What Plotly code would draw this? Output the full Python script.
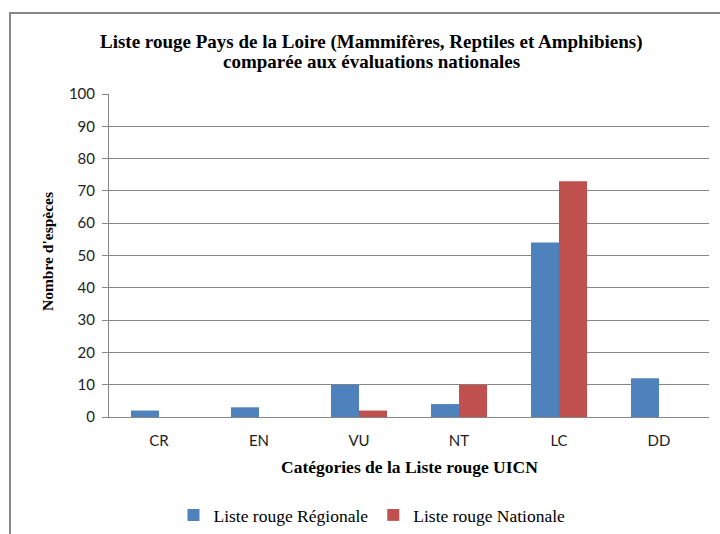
import plotly.graph_objects as go

categories = ["CR", "EN", "VU", "NT", "LC", "DD"]
regionale = [2, 3, 10, 4, 54, 12]
nationale = [None, None, 2, 10, 73, None]
series_names = ["Liste rouge Régionale", "Liste rouge Nationale"]
y_ticks = list(range(0, 101, 10))
title_lines = ["Liste rouge Pays de la Loire (Mammifères, Reptiles et Amphibiens)",
               "comparée aux évaluations nationales"]

W, H = 720, 534
L, R, T, B = 109, 11, 94, 117
pw = W - L - R
ph = H - T - B

def px_x(x):
    return (x - L) / pw

def px_y(y):
    return (H - B - y) / ph

serif = "Liberation Serif, Times New Roman, serif"
sans = "Lato, Carlito, Calibri, sans-serif"

fig = go.Figure()
fig.add_trace(go.Bar(x=categories, y=regionale, name=series_names[0],
                     marker=dict(color="#4F81BD", line=dict(width=0))))
fig.add_trace(go.Bar(x=categories, y=nationale, name=series_names[1],
                     marker=dict(color="#C0504D", line=dict(width=0))))

fig.update_layout(
    width=W, height=H,
    margin=dict(l=L, r=R, t=T, b=B, pad=0, autoexpand=False),
    paper_bgcolor="white", plot_bgcolor="white",
    barmode="group", bargap=0.44, bargroupgap=0,
    legend=dict(orientation="h", x=px_x(372), xanchor="center",
                y=px_y(515), yanchor="middle",
                font=dict(family=serif, size=17.5, color="black"),
                itemwidth=30, tracegroupgap=0, bgcolor="rgba(0,0,0,0)"),
    showlegend=True,
)

fig.update_xaxes(
    showline=True, linecolor="#868686", linewidth=1,
    showgrid=False, ticks="", ticklabelstandoff=10,
    tickfont=dict(family=sans, size=15, color="#222"),
    fixedrange=True, automargin=False,
)
fig.update_yaxes(
    range=[0, 100], tickvals=y_ticks,
    showline=True, linecolor="#868686", linewidth=1,
    showgrid=True, gridcolor="#868686", gridwidth=1,
    ticks="outside", ticklen=6, tickcolor="#868686",
    ticklabelstandoff=4,
    tickfont=dict(family=sans, size=15, color="#222"),
    zeroline=False, automargin=False,
)

for line, yy in zip(title_lines, [42, 62]):
    fig.add_annotation(text="<b>" + line + "</b>",
                       xref="paper", yref="paper", x=px_x(371), y=px_y(yy),
                       xanchor="center", yanchor="middle", showarrow=False,
                       font=dict(family=serif, size=19, color="black"))

fig.add_annotation(text="<b>Nombre d'espèces</b>", textangle=-90,
                   xref="paper", yref="paper", x=px_x(47), y=px_y(252),
                   xanchor="center", yanchor="middle", showarrow=False,
                   font=dict(family=serif, size=15.5, color="black"))
fig.add_annotation(text="<b>Catégories de la Liste rouge UICN</b>",
                   xref="paper", yref="paper", x=px_x(409), y=px_y(467),
                   xanchor="center", yanchor="middle", showarrow=False,
                   font=dict(family=serif, size=17.5, color="black"))

fig.add_shape(type="rect", xref="paper", yref="paper",
              x0=px_x(10), x1=px_x(760), y0=px_y(600), y1=px_y(13),
              line=dict(color="#868686", width=2), fillcolor="rgba(0,0,0,0)",
              layer="below")

fig.write_html("out.html", config={"displayModeBar": False},
               post_script="document.body.style.margin='0';document.body.style.overflow='hidden';")
